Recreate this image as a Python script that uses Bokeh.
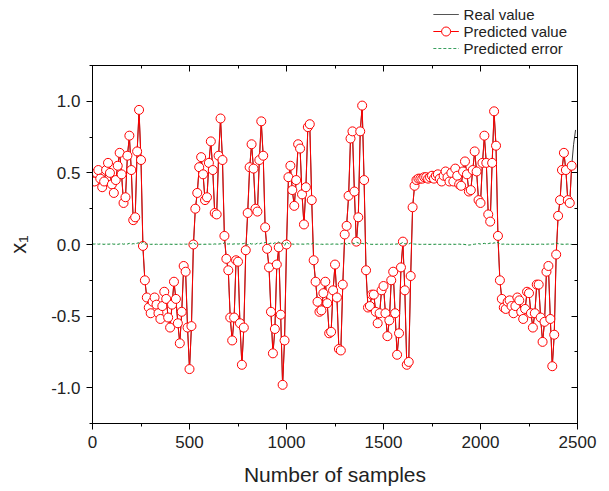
from bokeh.plotting import figure
from bokeh.layouts import column
from bokeh.models import (LinearAxis, SingleIntervalTicker, PrintfTickFormatter, Range1d)
from bokeh.core.properties import value
from bokeh.embed import file_html
from bokeh.resources import INLINE

FONT = "Liberation Sans"

# sample index of each predicted point (every 10 samples)
samples = list(range(0, 2480, 10))

# predicted value of x1
pred = [
    0.45, 0.44, 0.50, 0.52, 0.46, 0.40, 0.44, 0.52, 0.57, 0.50,
    0.42, 0.36, 0.45, 0.55, 0.64, 0.49, 0.29, 0.33, 0.62, 0.76,
    0.52, 0.17, 0.19, 0.65, 0.94, 0.59, -0.01, -0.25, -0.37, -0.44,
    -0.48, -0.40, -0.37, -0.42, -0.48, -0.52, -0.43, -0.33, -0.38, -0.51,
    -0.58, -0.42, -0.26, -0.38, -0.55, -0.69, -0.47, -0.15, -0.19, -0.58,
    -0.87, -0.57, 0.00, 0.25, 0.36, 0.54, 0.61, 0.49, 0.31, 0.33,
    0.57, 0.72, 0.52, 0.22, 0.21, 0.62, 0.88, 0.59, 0.06, -0.10,
    -0.18, -0.51, -0.67, -0.51, -0.11, -0.12, -0.55, -0.84, -0.58, -0.04,
    0.22, 0.54, 0.70, 0.53, 0.25, 0.23, 0.59, 0.86, 0.62, 0.12,
    -0.03, -0.16, -0.47, -0.76, -0.59, -0.14, -0.02, -0.49, -0.98, -0.67,
    0.00, 0.47, 0.55, 0.38, 0.27, 0.45, 0.70, 0.67, 0.35, 0.14,
    0.40, 0.82, 0.84, 0.31, -0.11, -0.26, -0.40, -0.47, -0.46, -0.34,
    -0.26, -0.41, -0.62, -0.61, -0.32, -0.14, -0.37, -0.73, -0.74, -0.28,
    0.07, 0.13, 0.34, 0.74, 0.79, 0.37, 0.02, 0.19, 0.79, 0.97,
    0.45, -0.18, -0.44, -0.43, -0.35, -0.35, -0.47, -0.55, -0.48, -0.32,
    -0.29, -0.48, -0.64, -0.53, -0.25, -0.19, -0.48, -0.77, -0.62, -0.16,
    0.02, -0.32, -0.84, -0.82, -0.22, 0.26, 0.41, 0.45, 0.46, 0.46,
    0.46, 0.47, 0.47, 0.46, 0.47, 0.48, 0.46, 0.48, 0.49, 0.46,
    0.44, 0.48, 0.51, 0.47, 0.44, 0.50, 0.44, 0.53, 0.48, 0.42,
    0.41, 0.51, 0.58, 0.49, 0.37, 0.38, 0.52, 0.65, 0.51, 0.31,
    0.29, 0.57, 0.76, 0.57, 0.21, 0.16, 0.57, 0.93, 0.69, 0.06,
    -0.25, -0.38, -0.44, -0.45, -0.40, -0.39, -0.43, -0.48, -0.43, -0.37,
    -0.39, -0.47, -0.52, -0.45, -0.33, -0.34, -0.48, -0.58, -0.48, -0.28,
    -0.28, -0.51, -0.68, -0.54, -0.19, -0.15, -0.52, -0.85, -0.63, -0.07,
    0.20, 0.31, 0.52, 0.64, 0.52, 0.31, 0.29, 0.55,
]

# prediction error
err = [
    0.004, 0.003, 0.005, 0.002, 0.004, 0.003, 0.001, 0.004, 0.002, 0.003,
    0.005, 0.002, 0.003, 0.001, 0.004, 0.006, 0.002, 0.005, 0.003, 0.008,
    0.002, 0.006, 0.004, 0.009, 0.012, 0.006, 0.018, 0.004, 0.002, 0.003,
    0.001, 0.002, 0.001, 0.002, 0.000, 0.001, 0.002, 0.001, 0.002, 0.001,
    0.002, 0.001, 0.003, 0.001, 0.002, 0.003, 0.001, 0.004, 0.002, 0.003,
    0.004, 0.006, 0.015, 0.003, 0.002, 0.001, 0.002, 0.001, 0.002, 0.001,
    0.003, 0.002, 0.001, 0.004, 0.002, 0.003, 0.005, 0.002, 0.014, 0.004,
    0.003, 0.005, 0.002, 0.004, 0.006, 0.003, 0.005, 0.004, 0.007, 0.012,
    -0.004, 0.008, 0.003, 0.006, 0.002, 0.009, 0.004, 0.010, 0.006, 0.015,
    0.008, 0.005, 0.010, 0.004, 0.012, 0.007, 0.018, 0.006, 0.012, -0.008,
    0.020, 0.006, 0.004, 0.003, 0.002, 0.004, 0.003, 0.002, 0.003, 0.002,
    0.003, 0.005, 0.002, 0.004, 0.012, 0.003, 0.002, 0.001, 0.002, 0.001,
    0.002, 0.003, 0.001, 0.002, 0.004, 0.002, 0.003, 0.001, 0.004, 0.006,
    0.015, -0.006, 0.008, 0.004, 0.010, 0.006, 0.016, 0.010, 0.005, 0.008,
    0.004, 0.014, 0.003, 0.002, 0.001, 0.002, 0.001, 0.002, 0.001, 0.002,
    0.001, 0.002, 0.003, 0.001, 0.002, 0.003, 0.002, 0.004, 0.003, 0.006,
    0.016, 0.004, 0.006, 0.003, 0.010, 0.004, 0.003, 0.002, 0.002, 0.001,
    0.002, 0.001, 0.002, 0.001, 0.001, 0.002, 0.001, 0.002, 0.001, 0.001,
    0.002, 0.001, 0.002, 0.001, 0.002, 0.001, 0.002, 0.001, 0.002, 0.003,
    0.001, 0.002, 0.000, -0.003, -0.004, -0.002, 0.001, 0.002, 0.004, 0.006,
    0.003, 0.005, 0.008, 0.004, 0.006, 0.010, 0.005, 0.012, 0.008, 0.016,
    0.004, 0.002, 0.003, 0.001, 0.002, 0.001, 0.002, 0.001, 0.002, 0.001,
    0.002, 0.001, 0.002, 0.001, 0.002, 0.001, 0.002, 0.001, 0.002, 0.001,
    0.002, 0.003, 0.002, 0.001, 0.002, 0.003, 0.002, 0.003, 0.004, 0.012,
    0.006, 0.003, 0.002, 0.001, 0.002, 0.003, 0.002, 0.001,
]

# real value continues slightly past the last predicted point
real_tail_x = [2480, 2490]
real_tail = [0.70, 0.80]

series_names = ["Real value", "Predicted value", "Predicted error"]

x_tick_interval = 500
y_tick_interval = 0.5

real_x = samples + real_tail_x
real = [p_ - e_ for p_, e_ in zip(pred, err)] + real_tail

TXT = "#222222"
RED = "#ff0000"
DARK = "#3a3a3a"
GREEN = "#138a36"

W = 609
LEG_H = 57
MAIN_H = 434

p = figure(width=W, height=MAIN_H, output_backend="svg", toolbar_location=None,
           x_range=Range1d(0, 2500), y_range=Range1d(-1.25, 1.25),
           min_border_left=92, min_border_right=32, min_border_top=8,
           min_border_bottom=68, background_fill_color="white",
           border_fill_color="white", outline_line_color="black")
p.grid.visible = False


def style_axis(ax, labels=True, inward=False):
    ax.axis_line_color = "black"
    ax.axis_line_width = 1
    ax.major_tick_line_color = "black"
    ax.minor_tick_line_color = "black"
    if inward:
        ax.major_tick_in = 6
        ax.major_tick_out = 0
        ax.minor_tick_in = 3
        ax.minor_tick_out = 0
    else:
        ax.major_tick_in = 0
        ax.major_tick_out = 6
        ax.minor_tick_in = 0
        ax.minor_tick_out = 3
    ax.major_label_text_font = FONT
    ax.major_label_text_font_size = "17px"
    ax.major_label_text_color = TXT if labels else None
    ax.axis_label_text_font = FONT
    ax.axis_label_text_font_style = "normal"
    ax.axis_label_text_color = TXT


xa = p.xaxis[0]
xa.ticker = SingleIntervalTicker(interval=x_tick_interval, num_minor_ticks=2)
style_axis(xa)
xa.axis_label = "Number of samples"
xa.axis_label_text_font_size = "21px"
xa.major_label_standoff = 6
xa.axis_label_standoff = 12

ya = p.yaxis[0]
ya.ticker = SingleIntervalTicker(interval=y_tick_interval, num_minor_ticks=2)
ya.formatter = PrintfTickFormatter(format="%.1f")
style_axis(ya)
ya.axis_label = "x\u2081"
ya.axis_label_text_font_size = "22px"
ya.major_label_standoff = 6
ya.axis_label_standoff = 17

top = LinearAxis(ticker=SingleIntervalTicker(interval=x_tick_interval, num_minor_ticks=2))
style_axis(top, labels=False, inward=True)
top.major_label_text_font_size = "0px"
top.major_label_standoff = 0
p.add_layout(top, "above")

right = LinearAxis(ticker=SingleIntervalTicker(interval=y_tick_interval, num_minor_ticks=2))
style_axis(right, labels=False, inward=True)
right.major_label_text_font_size = "0px"
right.major_label_standoff = 0
p.add_layout(right, "right")

p.line(real_x, real, line_color=DARK, line_width=1)
p.line(samples, pred, line_color=RED, line_width=1)
p.scatter(samples, pred, marker="circle", size=9, line_color=RED,
          fill_color="white", line_width=1)
p.line(samples, err, line_color=GREEN, line_width=1, line_dash="3 2")

# legend strip above the plot, drawn in pixel-like units of its own
lg = figure(width=W, height=LEG_H, output_backend="svg", toolbar_location=None,
            x_range=Range1d(0, W), y_range=Range1d(LEG_H, 0),
            x_axis_location=None, y_axis_location=None,
            min_border=0, outline_line_color=None,
            background_fill_color="white", border_fill_color="white")
lg.grid.visible = False
row_y = [14, 31, 48]
key_x0, key_x1, text_x = 428, 460, 466
lg.segment(x0=[key_x0], y0=[row_y[0]], x1=[key_x1], y1=[row_y[0]],
           line_color="#555555", line_width=1)
lg.segment(x0=[key_x0], y0=[row_y[1]], x1=[key_x1], y1=[row_y[1]],
           line_color=RED, line_width=1)
lg.scatter(x=[(key_x0 + key_x1) / 2], y=[row_y[1]], marker="circle", size=9,
           line_color=RED, fill_color="white", line_width=1)
lg.segment(x0=[key_x0], y0=[row_y[2]], x1=[key_x1], y1=[row_y[2]],
           line_color="#3aa060", line_width=1, line_dash="3 2")
lg.text(x=[text_x] * 3, y=row_y, text=series_names, text_font=value(FONT),
        text_font_size="15px", text_baseline="middle", text_align="left",
        text_color=TXT)

layout = column(lg, p, spacing=0)
open("out.html", "w").write(file_html(layout, INLINE))
